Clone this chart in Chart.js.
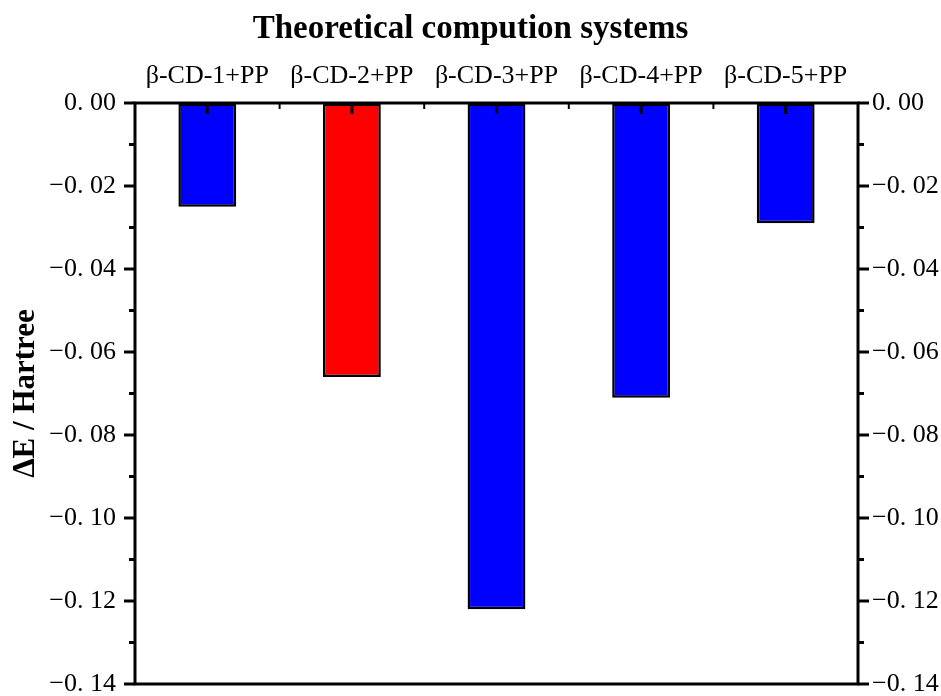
<!DOCTYPE html>
<html>
<head>
<meta charset="utf-8">
<script src="https://cdn.jsdelivr.net/npm/chart.js@4/dist/chart.umd.min.js"></script>
<style>
  html, body { margin: 0; padding: 0; background: #fff; }
</style>
</head>
<body>
<canvas id="myChart" width="941" height="696"></canvas>
<script>
let categories = ['β-CD-1+PP', 'β-CD-2+PP', 'β-CD-3+PP', 'β-CD-4+PP', 'β-CD-5+PP'];
let deltaE = [-0.025, -0.066, -0.122, -0.071, -0.029];
let barColors = ['#0000FF', '#FF0000', '#0000FF', '#0000FF', '#0000FF'];
let yTicks = [0, -0.02, -0.04, -0.06, -0.08, -0.10, -0.12, -0.14];
let yTickLabels = ['0. 00', '−0. 02', '−0. 04', '−0. 06', '−0. 08', '−0. 10', '−0. 12', '−0. 14'];

Chart.defaults.font.family = "'Liberation Serif', 'Times New Roman', serif";
Chart.defaults.color = '#000';

// ticks and frame like the origin plot: inward on top, outward left/right
let framePlugin = {
	id: 'frame',
	afterDatasetsDraw(chart) {
		let ctx = chart.ctx;
		let a = chart.chartArea;
		let x = chart.scales.x, y = chart.scales.y;
		ctx.save();
		ctx.strokeStyle = '#000';
		ctx.lineCap = 'butt';
		function line(x1, y1, x2, y2) {
			ctx.beginPath();
			ctx.moveTo(x1, y1);
			ctx.lineTo(x2, y2);
			ctx.stroke();
		}
		ctx.lineWidth = 3;
		categories.forEach((c, i) => {
			let px = x.getPixelForValue(i);
			line(px, a.top, px, a.top + 11);
		});
		ctx.lineWidth = 2;
		for (let i = 1; i < categories.length; i++) {
			let px = (x.getPixelForValue(i - 1) + x.getPixelForValue(i)) / 2;
			line(px, a.top, px, a.top + 6);
		}
		ctx.lineWidth = 3;
		yTicks.forEach(v => {
			let py = y.getPixelForValue(v);
			line(a.left - 11, py, a.left, py);
			line(a.right, py, a.right + 11, py);
		});
		for (let i = 1; i < yTicks.length; i++) {
			let py = y.getPixelForValue((yTicks[i - 1] + yTicks[i]) / 2);
			line(a.left - 6, py, a.left, py);
			line(a.right, py, a.right + 6, py);
		}
		ctx.strokeRect(a.left, a.top, a.right - a.left, a.bottom - a.top);
		ctx.restore();
	}
};

function setTicks(scale) {
	scale.ticks = yTicks.map(v => ({ value: v }));
}

// invisible grid ticks only push the labels away from the axis
function hiddenGrid(len) {
	return { display: true, drawOnChartArea: false, drawTicks: true, tickLength: len, tickColor: 'rgba(0,0,0,0)', color: 'rgba(0,0,0,0)' };
}

let myChart = new Chart(document.getElementById('myChart').getContext('2d'), {
	type: 'bar',
	data: {
		labels: categories,
		datasets: [{
			data: deltaE,
			backgroundColor: barColors,
			borderColor: '#000',
			borderWidth: 2.5,
			borderSkipped: false,
			barPercentage: 0.4,
			categoryPercentage: 1
		}]
	},
	options: {
		responsive: false,
		animation: false,
		layout: { padding: { left: 0, right: 0, top: 0, bottom: 12 } },
		plugins: {
			legend: { display: false },
			tooltip: { enabled: false },
			title: {
				display: true,
				text: 'Theoretical compution systems',
				color: '#000',
				font: { size: 33, weight: 'bold' },
				padding: { top: 10, bottom: 0 }
			}
		},
		scales: {
			x: {
				position: 'top',
				offset: true,
				grid: { display: false },
				border: { display: false },
				ticks: { font: { size: 26 }, padding: 3, autoSkip: false, maxRotation: 0 },
				afterFit(scale) { scale.height = 53.4; }
			},
			y: {
				position: 'left',
				min: -0.14,
				max: 0,
				grid: hiddenGrid(19),
				border: { display: false },
				afterBuildTicks: setTicks,
				ticks: {
					font: { size: 26, lineHeight: 0.9 },
					padding: 0,
					callback: (v, i) => yTickLabels[i]
				},
				title: {
					display: true,
					text: 'ΔE / Hartree',
					color: '#000',
					font: { size: 31, weight: 'bold' },
					padding: { top: 7, bottom: 0 }
				},
				afterFit(scale) { scale.width = 135; }
			},
			y2: {
				position: 'right',
				min: -0.14,
				max: 0,
				grid: hiddenGrid(14),
				border: { display: false },
				afterBuildTicks: setTicks,
				ticks: {
					font: { size: 26, lineHeight: 0.9 },
					padding: 0,
					callback: (v, i) => yTickLabels[i]
				},
				afterFit(scale) { scale.width = 83; }
			}
		}
	},
	plugins: [framePlugin]
});
</script>
</body>
</html>
